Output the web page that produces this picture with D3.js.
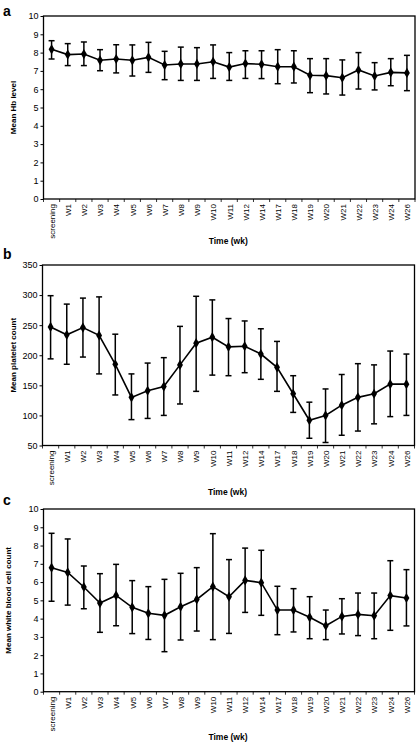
<!DOCTYPE html>
<html><head><meta charset="utf-8">
<script src="https://cdn.jsdelivr.net/npm/d3@7"></script>
<style>body{margin:0;background:#fff}svg{display:block}text{font-family:Arial,"Liberation Sans",Helvetica,sans-serif}</style>
</head><body><svg id="c" width="417" height="742"></svg>
<script>
const weeks = ["screening","W1","W2","W3","W4","W5","W6","W7","W8","W9","W10","W11","W12","W14","W17","W18","W19","W20","W21","W22","W23","W24","W26"];

const hbMean  = [8.18,7.89,7.92,7.58,7.65,7.58,7.74,7.32,7.38,7.38,7.50,7.21,7.40,7.36,7.23,7.23,6.76,6.74,6.63,7.05,6.72,6.92,6.89];
const hbUpper = [8.65,8.49,8.58,8.16,8.43,8.42,8.56,8.07,8.30,8.27,8.42,8.00,8.10,8.10,8.16,8.10,7.67,7.67,7.60,8.00,7.45,7.67,7.85];
const hbLower = [7.65,7.29,7.29,7.01,6.89,6.72,6.92,6.52,6.48,6.48,6.59,6.48,6.59,6.58,6.30,6.34,5.81,5.74,5.68,6.01,5.96,6.19,5.92];

const pltMean  = [247,234,246,233,185,130,141,148,184,220,230,214,215,202,180,136,92,100,117,130,136,152,152];
const pltUpper = [299,285,295,297,235,169,187,196,248,298,292,261,257,244,223,166,122,144,168,186,184,207,202];
const pltLower = [194,185,197,169,134,93,95,100,119,140,167,166,171,160,140,105,62,55,67,74,86,98,100];

const wbcMean  = [6.79,6.53,5.73,4.85,5.27,4.62,4.29,4.18,4.65,5.05,5.75,5.20,6.09,5.97,4.47,4.47,4.07,3.61,4.12,4.23,4.16,5.26,5.13];
const wbcUpper = [8.67,8.36,6.88,6.46,6.97,6.08,5.75,6.15,6.48,6.79,8.65,7.23,7.86,7.74,5.77,5.64,5.20,4.47,5.09,5.40,5.40,7.17,6.68];
const wbcLower = [4.95,4.74,4.54,3.25,3.61,3.18,2.86,2.19,2.83,3.32,2.85,3.19,4.34,4.18,3.12,3.27,2.90,2.85,3.16,3.07,2.90,3.36,3.60];

const hbTicks  = [0,1,2,3,4,5,6,7,8,9,10];
const pltTicks = [50,100,150,200,250,300,350];
const wbcTicks = [0,1,2,3,4,5,6,7,8,9,10];

const panels = [
  {letter:"a", ylabel:"Mean Hb level", mean:hbMean, up:hbUpper, lo:hbLower, ticks:hbTicks, dom:[0,10],
   left:43.5, right:415, top:16, bottom:199, letterY:16, ylabX:13, xtitleY:244},
  {letter:"b", ylabel:"Mean platelet count", mean:pltMean, up:pltUpper, lo:pltLower, ticks:pltTicks, dom:[50,350],
   left:42.5, right:414.5, top:265, bottom:445.5, letterY:259, ylabX:13, xtitleY:495},
  {letter:"c", ylabel:"Mean white blood cell count", mean:wbcMean, up:wbcUpper, lo:wbcLower, ticks:wbcTicks, dom:[0,10],
   left:43.5, right:414.5, top:509, bottom:691.7, letterY:505, ylabX:8, xtitleY:740}
];

const svg = d3.select("#c");

panels.forEach(p => {
  const g = svg.append("g");
  const x = d3.scaleBand().domain(weeks).range([p.left, p.right]).padding(0);
  const y = d3.scaleLinear().domain(p.dom).range([p.bottom, p.top]);
  const cx = d => x(d) + x.bandwidth()/2;

  // y axis
  const ya = g.append("g").attr("transform", `translate(${p.left},0)`)
    .call(d3.axisLeft(y).tickValues(p.ticks).tickSize(3).tickSizeOuter(0).tickPadding(2));
  ya.select(".domain").remove();
  ya.selectAll("text").attr("font-size", 9).attr("fill", "#000");
  ya.selectAll("line").attr("stroke", "#000");

  // x ticks at band boundaries
  const bounds = weeks.map(d => x(d)).concat([p.right]);
  g.append("g").selectAll("line").data(bounds).join("line")
    .attr("x1", d => d).attr("x2", d => d)
    .attr("y1", p.bottom).attr("y2", p.bottom + 3)
    .attr("stroke", "#000").attr("stroke-width", 0.8);

  g.append("g").selectAll("text").data(weeks).join("text")
    .attr("transform", d => `translate(${cx(d)+0.5},${p.bottom + 5}) rotate(-90)`)
    .attr("text-anchor", "end").attr("dy", "0.35em")
    .attr("font-size", 8).attr("fill", "#000")
    .text(d => d);

  // frame
  g.append("rect").attr("x", p.left).attr("y", p.top)
    .attr("width", p.right - p.left).attr("height", p.bottom - p.top)
    .attr("fill", "none").attr("stroke", "#000").attr("stroke-width", 1.3);

  // error bars
  const eb = g.append("g").attr("stroke", "#000").attr("stroke-width", 1.5);
  weeks.forEach((d, i) => {
    const xx = cx(d);
    eb.append("line").attr("x1", xx).attr("x2", xx).attr("y1", y(p.up[i])).attr("y2", y(p.lo[i]));
    eb.append("line").attr("x1", xx-3).attr("x2", xx+3).attr("y1", y(p.up[i])).attr("y2", y(p.up[i]));
    eb.append("line").attr("x1", xx-3).attr("x2", xx+3).attr("y1", y(p.lo[i])).attr("y2", y(p.lo[i]));
  });

  // line
  const line = d3.line().x((v, i) => cx(weeks[i])).y(v => y(v));
  g.append("path").datum(p.mean).attr("d", line)
    .attr("fill", "none").attr("stroke", "#000").attr("stroke-width", 1.6);

  // markers
  g.append("g").selectAll("path").data(p.mean).join("path")
    .attr("transform", (v, i) => `translate(${cx(weeks[i])},${y(v)})`)
    .attr("d", d3.symbol(d3.symbolDiamond, 30))
    .attr("fill", "#000");

  // labels
  g.append("text").attr("x", 3).attr("y", p.letterY)
    .attr("font-size", 14).attr("font-weight", "bold").text(p.letter);
  g.append("text")
    .attr("transform", `translate(${p.ylabX},${(p.top + p.bottom)/2}) rotate(-90)`)
    .attr("text-anchor", "middle").attr("dy", "0.35em")
    .attr("font-size", 8).attr("font-weight", "bold").text(p.ylabel);
  g.append("text").attr("x", (p.left + p.right)/2 - 1).attr("y", p.xtitleY)
    .attr("text-anchor", "middle").attr("font-size", 8.5).attr("font-weight", "bold")
    .text("Time (wk)");
});
</script></body></html>
